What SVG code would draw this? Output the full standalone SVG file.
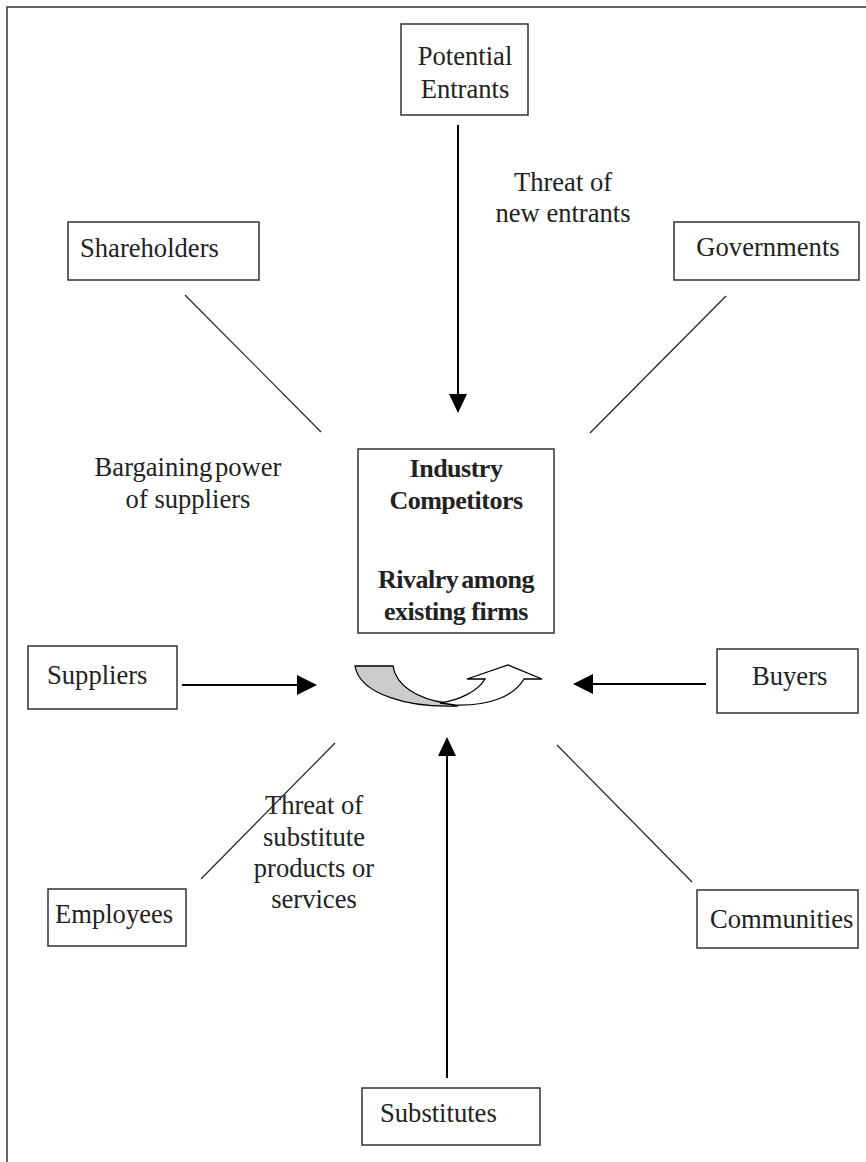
<svg xmlns="http://www.w3.org/2000/svg" width="866" height="1162" viewBox="0 0 866 1162">
<style>
.box{fill:#fff;stroke:#333;stroke-width:1.5}
.t{font-family:"Liberation Serif","Times New Roman",serif;font-size:26.6px;fill:#222}
.b{font-weight:bold;font-size:26px;letter-spacing:-0.5px}
.ln{stroke:#222;stroke-width:1.2;fill:none}
.ar{stroke:#000;stroke-width:2;fill:none}
</style>
<rect width="866" height="1162" fill="#fff"/>
<path d="M7,1162 L7,7 L866,7" fill="none" stroke="#333" stroke-width="1.5"/>

<g id="connectors">
<line class="ar" x1="458" y1="125" x2="458" y2="395"/>
<path d="M449,394 L467,394 L458,413 Z" fill="#000"/>
<line class="ar" x1="447" y1="1078" x2="447" y2="755"/>
<path d="M438,756 L456,756 L447,737 Z" fill="#000"/>
<line class="ar" x1="182" y1="685" x2="298" y2="685"/>
<path d="M297,675 L317,685 L297,695 Z" fill="#000"/>
<line class="ar" x1="706" y1="684" x2="592" y2="684"/>
<path d="M593,674 L573,684 L593,694 Z" fill="#000"/>
<line class="ln" x1="185" y1="295" x2="321" y2="432"/>
<line class="ln" x1="726" y1="296" x2="590" y2="433"/>
<line class="ln" x1="201" y1="879" x2="335" y2="743"/>
<line class="ln" x1="557" y1="745" x2="692" y2="882"/>
</g>

<g id="potential-entrants">
<rect class="box" x="401" y="24" width="127" height="91"/>
<text class="t" x="465" y="65" text-anchor="middle">Potential</text>
<text class="t" x="465" y="98" text-anchor="middle">Entrants</text>
</g>
<g id="shareholders">
<rect class="box" x="68" y="222" width="191" height="58"/>
<text class="t" x="80" y="257">Shareholders</text>
</g>
<g id="governments">
<rect class="box" x="674" y="222" width="185" height="58"/>
<text class="t" x="768" y="256" text-anchor="middle">Governments</text>
</g>
<g id="industry-competitors">
<rect class="box" x="358" y="449" width="196" height="184"/>
<text class="t b" x="456" y="477" text-anchor="middle">Industry</text>
<text class="t b" x="456" y="509" text-anchor="middle">Competitors</text>
<text class="t b" x="456" y="588" text-anchor="middle" word-spacing="-3">Rivalry among</text>
<text class="t b" x="456" y="620" text-anchor="middle">existing firms</text>
</g>
<g id="rivalry-arrow">
<path d="M355,666 L393,666 C396,686 418,699 446,703 C456,705 458,706 458,706 C410,708 360,695 355,666 Z" fill="#ccc" stroke="#000" stroke-width="1.3"/>
<path d="M440,703 C460,700 478,691 485,679 L467,679 L508,665 L542,679 L524,679 C514,696 490,706 455,705 Z" fill="#fff" stroke="#000" stroke-width="1.3"/>
</g>
<g id="suppliers">
<rect class="box" x="28" y="646" width="149" height="63"/>
<text class="t" x="47" y="684">Suppliers</text>
</g>
<g id="buyers">
<rect class="box" x="717" y="649" width="141" height="64"/>
<text class="t" x="752" y="685">Buyers</text>
</g>
<g id="employees">
<rect class="box" x="48" y="889" width="138" height="57"/>
<text class="t" x="55" y="923">Employees</text>
</g>
<g id="communities">
<rect class="box" x="697" y="890" width="161" height="58"/>
<text class="t" x="710" y="928">Communities</text>
</g>
<g id="substitutes">
<rect class="box" x="362" y="1088" width="178" height="57"/>
<text class="t" x="380" y="1122">Substitutes</text>
</g>

<g id="labels">
<text class="t" x="563" y="191" text-anchor="middle">Threat of</text>
<text class="t" x="563" y="222" text-anchor="middle">new entrants</text>
<text class="t" x="188" y="476" text-anchor="middle" word-spacing="-4">Bargaining power</text>
<text class="t" x="188" y="508" text-anchor="middle">of suppliers</text>
<text class="t" x="314" y="814" text-anchor="middle">Threat of</text>
<text class="t" x="314" y="846" text-anchor="middle">substitute</text>
<text class="t" x="314" y="877" text-anchor="middle">products or</text>
<text class="t" x="314" y="908" text-anchor="middle">services</text>
</g>
</svg>
